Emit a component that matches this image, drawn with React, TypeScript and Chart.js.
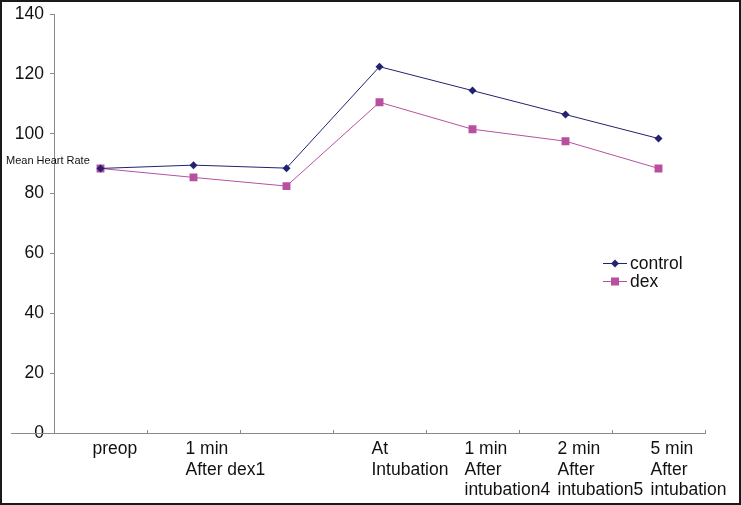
import React, { useEffect, useRef } from "react";
import { Chart, registerables } from "chart.js";

Chart.register(...registerables);

const categories: (string | string[])[] = [
  "preop",
  ["1 min", "After dex1"],
  "",
  ["At", "Intubation"],
  ["1 min", "After", "intubation4"],
  ["2 min", "After", "intubation5"],
  ["5 min", "After", "intubation"],
];
const controlValues = [88.4, 89.5, 88.5, 122.4, 114.4, 106.4, 98.4];
const dexValues = [88.4, 85.4, 82.5, 110.5, 101.5, 97.5, 88.4];
const yTicks = [0, 20, 40, 60, 80, 100, 120, 140];
const seriesNames = ["control", "dex"];
const axisTitle = "Mean Heart Rate";

const CONTROL_COLOR = "#222270";
const DEX_COLOR = "#b8509f";
const AXIS_COLOR = "#8a8a8a";
const FONT = "'Liberation Sans', Arial, sans-serif";

const overlayPlugin = {
  id: "overlay",
  afterDraw(chart: any) {
    const ctx = chart.ctx;
    const area = chart.chartArea;
    ctx.save();
    // extend x axis line to the left like the original
    ctx.strokeStyle = AXIS_COLOR;
    ctx.lineWidth = 1;
    ctx.beginPath();
    ctx.moveTo(9, Math.round(area.bottom) + 0.5);
    ctx.lineTo(area.left, Math.round(area.bottom) + 0.5);
    ctx.stroke();

    // axis title (horizontal)
    ctx.fillStyle = "#111";
    ctx.font = `11px ${FONT}`;
    ctx.textAlign = "left";
    ctx.textBaseline = "middle";
    ctx.fillText(axisTitle, 4, area.top + 147);

    // legend
    const lx = area.left + 549;
    const ly = area.top + 249;
    chart.data.datasets.forEach((ds: any, i: number) => {
      const y = ly + i * 18;
      ctx.strokeStyle = ds.borderColor;
      ctx.lineWidth = 1;
      ctx.beginPath();
      ctx.moveTo(lx, y + 0.5);
      ctx.lineTo(lx + 24, y + 0.5);
      ctx.stroke();
      ctx.fillStyle = ds.pointBackgroundColor;
      if (ds.pointStyle === "rectRot") {
        const r = 4;
        ctx.beginPath();
        ctx.moveTo(lx + 12 - r, y + 0.5);
        ctx.lineTo(lx + 12, y + 0.5 - r);
        ctx.lineTo(lx + 12 + r, y + 0.5);
        ctx.lineTo(lx + 12, y + 0.5 + r);
        ctx.closePath();
        ctx.fill();
      } else {
        ctx.fillRect(lx + 8, y - 3.5, 8, 8);
      }
      ctx.fillStyle = "#111";
      ctx.font = `17.5px ${FONT}`;
      ctx.textAlign = "left";
      ctx.textBaseline = "middle";
      ctx.fillText(ds.label, lx + 27, y + 1);
    });
    ctx.restore();
  },
};

export default function App() {
  const canvasRef = useRef<HTMLCanvasElement | null>(null);

  useEffect(() => {
    document.body.style.margin = "0";
    const canvas = canvasRef.current;
    if (!canvas) return;
    const chart = new Chart(canvas, {
      type: "line",
      data: {
        labels: categories,
        datasets: [
          {
            label: seriesNames[0],
            data: controlValues,
            borderColor: CONTROL_COLOR,
            backgroundColor: CONTROL_COLOR,
            pointBackgroundColor: CONTROL_COLOR,
            pointBorderColor: CONTROL_COLOR,
            pointStyle: "rectRot",
            pointRadius: 4,
            pointBorderWidth: 0,
            borderWidth: 1,
            tension: 0,
          },
          {
            label: seriesNames[1],
            data: dexValues,
            borderColor: DEX_COLOR,
            backgroundColor: DEX_COLOR,
            pointBackgroundColor: DEX_COLOR,
            pointBorderColor: DEX_COLOR,
            pointStyle: "rect",
            pointRadius: 5.6,
            pointBorderWidth: 0,
            borderWidth: 1,
            tension: 0,
          },
        ],
      },
      options: {
        animation: false,
        responsive: false,
        devicePixelRatio: 1,
        layout: { padding: { top: 12, right: 34, left: 0, bottom: 0 } },
        plugins: {
          legend: { display: false },
          tooltip: { enabled: false },
          title: { display: false },
        },
        scales: {
          x: {
            type: "category",
            offset: true,
            grid: {
              display: true,
              offset: true,
              drawOnChartArea: false,
              drawTicks: true,
              tickLength: -3,
              color: AXIS_COLOR,
            },
            border: { display: true, color: AXIS_COLOR, width: 1 },
            ticks: {
              align: "start",
              labelOffset: -8,
              padding: 9,
              autoSkip: false,
              maxRotation: 0,
              minRotation: 0,
              color: "#111",
              font: { family: FONT, size: 17.5, lineHeight: 1.17 },
            },
            afterFit: (s: any) => {
              s.height = 70;
              s.paddingLeft = 0;
              s.paddingRight = 0;
            },
          },
          y: {
            min: 0,
            max: 140,
            afterBuildTicks: (s: any) => {
              s.ticks = yTicks.map((v) => ({ value: v }));
            },
            grid: {
              display: true,
              drawOnChartArea: false,
              drawTicks: true,
              tickLength: 4,
              color: AXIS_COLOR,
            },
            border: { display: true, color: AXIS_COLOR, width: 1 },
            ticks: {
              padding: 6,
              color: "#111",
              font: { family: FONT, size: 17.5 },
            },
            afterFit: (s: any) => {
              s.width = 52;
              s.paddingTop = 0;
              s.paddingBottom = 0;
            },
          },
        },
      },
      plugins: [overlayPlugin],
    });
    return () => chart.destroy();
  }, []);

  return (
    <div
      style={{
        position: "relative",
        width: 741,
        height: 505,
        boxSizing: "border-box",
        border: "2px solid #1a1a1a",
        background: "#fff",
      }}
    >
      <canvas
        ref={canvasRef}
        width={737}
        height={501}
        style={{ display: "block", width: 737, height: 501 }}
      />
    </div>
  );
}
